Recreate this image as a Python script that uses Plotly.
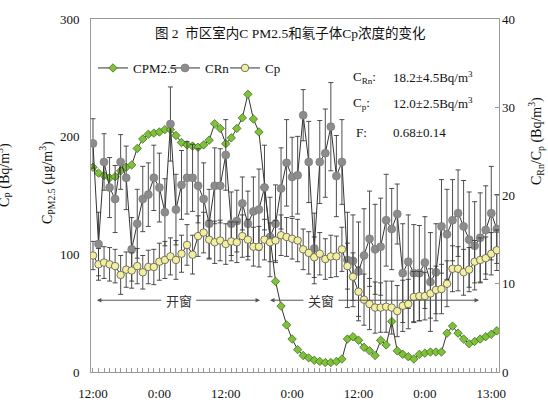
import plotly.graph_objects as go

# hourly sample index (74 hourly points)
hours = list(range(74))
tick_vals = [0, 12, 24, 36, 48, 60, 72]
tick_text = ["12:00", "0:00", "12:00", "0:00", "12:00", "0:00", "13:00"]

# CPM2.5 (left axis, ug/m3)
cpm25 = [174, 169, 167, 165, 166, 171, 174, 176, 190, 198,
         202, 203, 204, 206, 206, 201, 195, 193, 192, 191,
         193, 197, 211, 207, 194, 199, 207, 216, 236, 215,
         204, 157, 115, 77, 56, 40, 28, 19, 14, 12,
         10, 9, 8, 8, 9, 11, 28, 30, 27, 21,
         18, 14, 27, 23, 43, 18, 15, 13, 11, 15,
         16, 17, 17, 17, 33, 39, 33, 28, 24, 26,
         28, 30, 32, 35]

# CRn (right axis, Bq/m3)
crn = [25.9, 14.5, 23.8, 20.9, 19.6, 23.8, 22.0, 13.9, 16.8, 19.6,
       20.1, 22.0, 20.9, 18.1, 28.1, 18.4, 21.2, 22.0, 22.0, 21.1,
       19.6, 16.8, 21.1, 21.1, 24.6, 16.8, 17.1, 19.1, 16.8, 18.2,
       18.4, 20.9, 15.3, 16.8, 20.8, 23.7, 22.1, 22.3, 29.1, 23.8,
       14.0, 23.8, 24.8, 27.8, 22.2, 23.8, 12.7, 12.6, 11.4, 13.2,
       15.1, 13.9, 14.2, 17.2, 16.2, 17.9, 11.2, 12.5, 11.2, 11.2,
       12.4, 10.2, 11.3, 16.5, 15.6, 17.2, 18.0, 16.5, 15.0, 14.3,
       15.2, 16.1, 18.0, 16.2]
crn_err = [2.8, 3.6, 3.2, 3.4, 3.8, 3.1, 3.6, 3.6, 3.9, 3.7,
           3.6, 3.7, 3.9, 3.8, 4.2, 4.0, 3.9, 4.1, 3.8, 4.2,
           4.1, 3.9, 4.3, 4.2, 4.0, 3.6, 3.5, 3.0, 3.7, 3.9,
           4.6, 4.8, 4.5, 4.4, 4.6, 4.9, 4.5, 4.4, 2.9, 4.6,
           4.0, 4.7, 5.0, 5.0, 4.6, 4.8, 5.4, 5.2, 5.6, 5.3,
           5.4, 5.1, 5.5, 5.2, 4.6, 3.4, 5.6, 5.3, 5.5, 5.4,
           5.2, 5.6, 5.5, 5.3, 5.1, 4.6, 4.9, 5.2, 5.4, 5.0,
           5.1, 5.0, 5.3, 3.9]

# Cp (right axis, Bq/m3)
cp = [13.2, 12.2, 12.4, 12.2, 12.0, 11.0, 11.6, 11.5, 12.0, 11.3,
      11.9, 11.9, 12.5, 12.7, 13.1, 12.7, 13.4, 14.4, 13.3, 15.4,
      15.8, 15.0, 14.7, 14.9, 14.5, 14.8, 14.7, 15.4, 15.0, 14.2,
      14.2, 15.0, 14.7, 14.9, 15.5, 15.3, 15.1, 14.9, 13.9, 13.5,
      13.0, 13.4, 12.8, 13.1, 13.1, 13.9, 12.0, 10.8, 9.1, 8.2,
      7.7, 7.3, 7.3, 7.4, 7.3, 6.9, 7.5, 7.7, 8.5, 8.6,
      8.6, 8.9, 9.3, 9.4, 10.0, 11.7, 11.7, 11.3, 11.6, 12.5,
      12.7, 12.9, 13.4, 13.8]
cp_err = [1.6, 1.8, 1.8, 1.9, 1.9, 2.2, 2.0, 2.0, 2.0, 1.9,
          1.9, 2.0, 2.1, 2.1, 2.1, 2.2, 2.1, 2.3, 2.2, 2.3,
          2.3, 2.2, 2.4, 2.3, 2.3, 2.2, 2.3, 2.4, 2.3, 2.2,
          2.3, 2.3, 2.2, 2.3, 2.3, 2.2, 2.3, 2.4, 2.3, 2.4,
          2.3, 2.4, 2.3, 2.4, 2.3, 2.5, 2.6, 2.7, 2.8, 2.9,
          2.9, 2.9, 2.8, 2.9, 3.0, 2.9, 2.9, 2.8, 2.9, 2.8,
          2.7, 2.8, 2.7, 2.8, 2.6, 2.6, 2.5, 2.6, 2.5, 2.4,
          2.5, 2.4, 2.4, 2.3]

# window periods: (label, start, center, end) in hour index, y level on left axis
periods = [("开窗", 0.7, 15.5, 30.2), ("关窗", 32.0, 41.2, 69.8)]
period_y = 61

SERIF = "Liberation Serif, Times New Roman, Noto Sans CJK SC"
LINE = "#333333"

fig = go.Figure()

fig.add_trace(go.Scatter(
    x=hours, y=crn, name="CRn", yaxis="y2", mode="lines+markers",
    line=dict(color=LINE, width=1),
    marker=dict(symbol="circle", size=8, color="#8c8c8c", line=dict(color="#777777", width=0.6)),
    error_y=dict(type="data", array=crn_err, color="#3a3a3a", thickness=0.9, width=2.5),
    legend="legend2",
))
fig.add_trace(go.Scatter(
    x=hours, y=cp, name="Cp", yaxis="y2", mode="lines+markers",
    line=dict(color=LINE, width=1),
    marker=dict(symbol="circle", size=7.5, color="#f3ef9f", line=dict(color="#555555", width=0.8)),
    error_y=dict(type="data", array=cp_err, color="#3a3a3a", thickness=0.9, width=2.5),
    legend="legend3",
))
fig.add_trace(go.Scatter(
    x=hours, y=cpm25, name="CPM2.5", yaxis="y", mode="lines+markers",
    line=dict(color=LINE, width=1),
    marker=dict(symbol="diamond", size=6.5, color="#7cc23a", line=dict(color="#3d5f12", width=0.7)),
    legend="legend",
))

annotations = []
for label, x0, xc, x1 in periods:
    for head, col in ((x0, "#333333"), (x1, "rgba(0,0,0,0)")):
        annotations.append(dict(
            x=head, y=period_y, xref="x", yref="y",
            ax=xc, ay=period_y, axref="x", ayref="y",
            text=label, showarrow=True, arrowhead=2, arrowsize=0.9,
            arrowwidth=1, arrowcolor="#555555", borderpad=4,
            font=dict(family="Noto Sans CJK SC", size=13, color=col),
        ))

def px2x(px):
    return (px - 91) / 408.0

def py2y(py):
    return (372 - py) / 353.0

text_annots = [
    ("图 2  市区室内C PM2.5和氡子体Cp浓度的变化", 290, 33, "center", 13.5, 0),
    ("C<sub>Rn</sub>:", 351, 77, "left", 13, 0),
    ("18.2±4.5Bq/m<sup>3</sup>", 391, 77, "left", 13, 0),
    ("C<sub>p</sub>:", 351, 103, "left", 13, 0),
    ("12.0±2.5Bq/m<sup>3</sup>", 391, 103, "left", 13, 0),
    ("F:", 354, 132, "left", 13, 0),
    ("0.68±0.14", 391, 132, "left", 13, 0),
    ("C<sub>PM2.5</sub> (μg/m<sup>3</sup>)", 47, 183, "center", 14, -90),
    ("C<sub>Rn</sub>/C<sub>p</sub> (Bq/m<sup>3</sup>)", 536, 141, "center", 14, -90),
    ("C<sub>P</sub> (Bq/m<sup>3</sup>)", 4, 175, "center", 14, -90),
]
for txt, px, py, anchor, size, ang in text_annots:
    annotations.append(dict(
        text=txt, x=px2x(px), y=py2y(py), xref="paper", yref="paper",
        xanchor=anchor, yanchor="middle", showarrow=False, textangle=ang,
        font=dict(family=SERIF, size=size, color="#111111"),
    ))

legend_common = dict(orientation="h", yanchor="middle", xanchor="left",
                     bgcolor="rgba(0,0,0,0)", font=dict(family=SERIF, size=13, color="#111111"),
                     y=py2y(68))

fig.update_layout(
    width=548, height=404,
    margin=dict(l=91, r=49, t=19, b=32, autoexpand=False),
    paper_bgcolor="white", plot_bgcolor="white",
    showlegend=True,
    legend=dict(x=px2x(93), **legend_common),
    legend2=dict(x=px2x(165), **legend_common),
    legend3=dict(x=px2x(225), **legend_common),
    xaxis=dict(
        range=[-0.36, 73.4], tickmode="array", tickvals=tick_vals, ticktext=tick_text,
        showline=True, linecolor="#999999", linewidth=1, mirror=True,
        ticks="inside", ticklen=4, tickcolor="#999999",
        minor=dict(dtick=1, ticks="inside", ticklen=4, tickcolor="#999999", showgrid=False),
        showgrid=False, zeroline=False, ticklabelstandoff=9, automargin=False,
        tickfont=dict(family=SERIF, size=13, color="#111111"),
    ),
    yaxis=dict(
        range=[0, 300], dtick=100, showline=True, linecolor="#999999", linewidth=1,
        mirror=True, ticks="", showgrid=False, zeroline=False, ticklabelstandoff=8,
        automargin=False,
        tickfont=dict(family=SERIF, size=13, color="#111111"),
    ),
    yaxis2=dict(
        range=[0, 40], dtick=10, overlaying="y", side="right",
        showline=False, ticks="inside", ticklen=4, tickcolor="#999999",
        showgrid=False, zeroline=False, ticklabelstandoff=2, automargin=False,
        tickfont=dict(family=SERIF, size=13, color="#111111"),
    ),
    annotations=annotations,
)

fig.write_html("out.html")
